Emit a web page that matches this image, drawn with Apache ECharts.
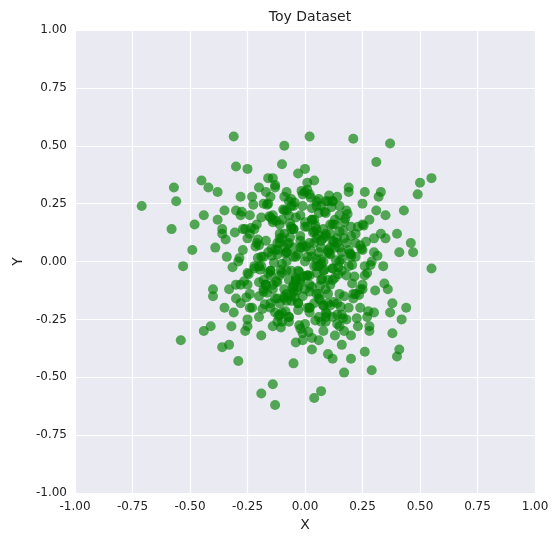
<!DOCTYPE html><html><head><meta charset="utf-8">
<script src="https://cdn.jsdelivr.net/npm/echarts@6/dist/echarts.min.js"></script>
<style>html,body{margin:0;padding:0;background:#fff}#c{width:560px;height:545px}</style></head><body><div id="c"></div>
<script>
const outerX=[-0.71,-0.57,-0.56,-0.58,-0.53,-0.54,-0.49,-0.48,-0.45,-0.44,-0.42,-0.31,-0.09,0.02,0.21,0.37,0.31,0.55,0.50,0.49,0.55,0.47,0.46,0.40,0.38,0.29,0.17,0.07,0.04,-0.13,-0.14,-0.19,-0.29,-0.36,-0.44,0.41,0.43,-0.30,-0.38,0.44,0.42,-0.40,0.12,-0.05,0.26,-0.25,0.33,-0.33];
const outerY=[0.24,0.32,0.26,0.14,-0.02,-0.34,0.05,0.16,0.35,0.20,0.32,0.54,0.50,0.54,0.53,0.51,0.43,0.36,0.34,0.29,-0.03,0.04,0.08,-0.41,-0.31,-0.47,-0.48,-0.56,-0.59,-0.62,-0.53,-0.57,-0.43,-0.37,-0.30,-0.38,0.22,0.41,0.30,-0.20,-0.25,-0.15,-0.42,-0.44,-0.39,0.40,0.30,-0.36];
const coreX=[0.00,0.05,-0.05,0.10,-0.10,0.15,-0.15,0.20,-0.20,0.25,-0.25,0.30,-0.30,0.02,-0.02,0.08,-0.08,0.12,-0.12,0.18,-0.18,0.22,-0.22,0.28,-0.28,0.33,-0.33,0.04,-0.04,0.06,-0.06,0.14,-0.14,0.16,-0.16,0.24,-0.24,0.26,-0.26,0.35,-0.35,0.01,-0.01,0.09,-0.09,0.11,-0.11,0.19,-0.19,0.21,-0.21,0.29,-0.29,0.03,-0.03,0.07,-0.07,0.13,-0.13,0.17,-0.17,0.23,-0.23,0.27,-0.27,0.31,-0.31,0.36,-0.36,0.00,0.05,-0.05,0.10,-0.10,0.15,-0.15,0.20,-0.20,0.25,-0.25,0.30,-0.30,0.02,-0.02,0.08,-0.08,0.12,-0.12,0.18,-0.18,0.22,-0.22,0.28,-0.28,0.04,-0.04,0.06,-0.06,0.14,-0.14,0.16,-0.16,0.24,-0.24,0.01,-0.01,0.09,-0.09,0.11,-0.11,0.19,-0.19,0.03,-0.03,0.07,-0.07,0.13,-0.13,0.17,-0.17,0.00,0.05,-0.05,0.10,-0.10,0.15,-0.15,0.20,-0.20,0.25,-0.25,0.02,-0.02,0.08,-0.08,0.12,-0.12,0.04,-0.04,0.06,-0.06,0.14,-0.14,0.01,-0.01,0.09,-0.09,0.03,-0.03,0.07,-0.07,0.32,-0.32,0.34,-0.34,0.38,-0.38,0.40,-0.40,0.37,-0.39,0.41,-0.41,0.00,0.10,-0.10,0.20,-0.20,0.05,-0.05,0.15,-0.15,0.30,-0.30,0.25,-0.25,0.35,-0.35,0.02,-0.08,0.12,-0.18,0.22,-0.28,0.06,-0.14,0.16,-0.24,0.26,-0.36,0.09,-0.11,0.19,-0.21];
const coreY=[0.00,0.10,-0.10,0.05,-0.05,0.20,-0.20,0.15,-0.15,0.25,-0.25,0.10,-0.10,-0.20,0.20,-0.30,0.30,-0.08,0.08,-0.25,0.25,0.02,-0.02,0.18,-0.18,0.12,-0.12,0.35,-0.35,-0.14,0.14,0.28,-0.28,-0.04,0.04,-0.12,0.12,0.30,-0.30,0.20,-0.20,0.15,-0.15,-0.22,0.22,0.06,-0.06,0.32,-0.32,-0.16,0.16,0.00,0.00,-0.38,0.38,0.24,-0.24,-0.32,0.32,0.10,-0.10,-0.28,0.28,-0.05,0.05,0.22,-0.22,-0.12,0.12,-0.12,-0.02,0.02,-0.18,0.18,0.06,-0.06,-0.32,0.32,-0.10,0.10,-0.22,0.22,0.08,-0.08,0.14,-0.14,0.26,-0.26,0.08,-0.08,-0.14,0.14,-0.28,0.28,-0.02,0.02,0.04,-0.04,-0.18,0.18,-0.36,0.36,-0.20,0.20,-0.06,0.06,0.12,-0.12,-0.10,0.10,-0.02,0.02,0.18,-0.18,-0.26,0.26,0.16,-0.16,-0.30,0.30,0.30,-0.14,0.14,0.26,-0.26,-0.28,0.28,0.02,-0.02,0.05,-0.05,-0.06,0.06,-0.04,0.04,0.16,-0.16,0.08,-0.08,-0.24,0.24,0.10,-0.10,0.34,-0.34,-0.12,0.12,0.18,-0.18,-0.08,0.08,0.28,-0.28,-0.02,0.02,-0.18,0.18,0.12,-0.12,-0.22,0.06,0.04,-0.28,0.40,-0.40,0.42,-0.42,-0.24,0.24,0.14,-0.14,-0.04,0.04,-0.16,0.16,-0.10,0.10,0.22,-0.22,0.00,-0.24,-0.12,0.08,0.20,-0.34,0.36,0.04,-0.20,-0.06,0.14,0.26,-0.18,0.30];
const denseX=[0.03,-0.03,0.07,-0.07,0.11,-0.11,0.02,-0.02,0.06,-0.06,0.13,-0.13,0.09,-0.09,0.01,-0.01,0.05,-0.05,0.16,-0.16,0.04,-0.04,0.08,-0.08,0.12,-0.12,0.00,0.10,-0.10,0.14,-0.14,0.18,-0.18,0.03,-0.03,0.07,-0.07,0.11,-0.11,0.15,-0.15,0.02,-0.02,0.06,-0.06,0.20,-0.20,0.09,-0.09,0.01,-0.01,0.05,-0.05,0.13,-0.13,0.17,-0.17,0.04,-0.04,0.08,-0.08,0.22,-0.22,0.12,-0.12,0.00,0.10,-0.10,0.19,-0.19,0.03,-0.03,0.07,-0.07,0.24,-0.24,0.15,-0.15,0.06,-0.06,0.11,-0.11,0.21,-0.21,0.02,-0.02,0.09,-0.09,0.14,-0.14,0.05,-0.05,0.17,-0.17,0.26,-0.26,0.08,-0.08,0.01,-0.01,0.12,-0.12,0.23,-0.23,0.04,-0.04,0.16,-0.16,0.07,-0.07,0.10,-0.10,0.00,0.18,-0.18,0.27,-0.27,0.13,-0.13,0.03,-0.03,0.06,-0.06,0.20,-0.20,0.09,-0.09,0.15,-0.15,0.02,-0.02,0.11,-0.11,0.25,-0.25,0.05,-0.05,0.14,-0.14,0.08,-0.08,0.19,-0.19,0.01,-0.01,0.28,-0.28,0.12,-0.12];
const denseY=[0.02,-0.04,0.06,-0.08,0.03,0.12,-0.13,0.09,-0.02,0.15,-0.07,0.05,0.11,-0.16,-0.06,0.07,0.14,-0.11,0.01,-0.05,-0.18,0.19,0.00,0.04,-0.03,-0.09,0.17,-0.14,0.10,0.08,-0.12,-0.06,0.02,0.23,-0.21,-0.01,0.20,-0.19,0.16,0.13,-0.04,-0.10,0.11,0.21,-0.17,0.03,-0.09,-0.24,0.06,-0.20,0.24,0.01,-0.13,0.18,-0.22,-0.15,0.09,0.13,-0.07,-0.19,0.22,0.12,-0.03,0.26,0.05,-0.27,-0.08,-0.01,-0.20,0.19,-0.11,0.03,0.09,-0.24,0.07,-0.14,0.24,-0.18,-0.16,0.27,0.16,-0.23,-0.14,0.08,0.29,-0.29,0.21,-0.15,-0.27,0.20,-0.05,0.06,0.17,-0.10,-0.02,0.14,0.10,-0.17,0.31,-0.31,-0.03,0.03,0.15,-0.20,0.18,-0.08,-0.23,0.25,0.01,-0.26,0.04,-0.22,0.15,0.22,-0.13,-0.24,0.14,0.06,0.33,-0.33,-0.11,0.27,-0.15,0.11,0.07,-0.26,0.28,0.00,0.19,-0.20,-0.09,0.12,0.08,-0.12,-0.28,0.26,0.24,-0.23,0.17,-0.19,-0.04,0.05,-0.02,0.02,0.29,-0.30,-0.10,0.09];
const fillX=[0.045,-0.045,0.085,-0.085,0.125,-0.125,0.165,-0.165,0.205,-0.205,0.245,-0.245,0.285,-0.285,0.025,-0.025,0.065,-0.065,0.105,-0.105,0.145,-0.145,0.185,-0.185,0.225,-0.225,0.265,-0.265,0.305,-0.305,0.015,-0.015,0.055,-0.055,0.095,-0.095,0.135,-0.135,0.175,-0.175,0.215,-0.215,0.255,-0.255,0.035,-0.035,0.075,-0.075,0.115,-0.115,0.155,-0.155,0.195,-0.195,0.235,-0.235,0.005,-0.005,0.275,-0.275,0.315,-0.315,0.345,-0.345,0.045,-0.045,0.085,-0.085,0.125,-0.125,0.165,-0.165,0.205,-0.205,0.025,-0.025,0.065,-0.065,0.105,-0.105,0.145,-0.145];
const fillY=[-0.255,0.255,0.215,-0.215,-0.175,0.175,0.135,-0.135,-0.095,0.095,0.055,-0.055,-0.015,0.015,0.045,-0.045,-0.165,0.165,0.285,-0.285,-0.025,0.025,0.205,-0.205,-0.245,0.245,0.085,-0.085,-0.125,0.125,-0.305,0.305,0.115,-0.115,-0.225,0.225,0.005,-0.005,0.185,-0.185,-0.065,0.065,0.155,-0.155,0.125,-0.125,-0.075,0.075,0.235,-0.235,-0.195,0.195,0.035,-0.035,-0.145,0.145,0.065,-0.065,-0.215,0.215,0.025,-0.025,-0.095,0.095,0.155,-0.155,-0.035,0.035,0.085,-0.085,-0.245,0.245,-0.015,0.015,0.275,-0.275,-0.105,0.105,0.035,-0.035,-0.055,0.055,0.195,-0.195];
const pts=[];
outerX.forEach((x,i)=>pts.push([x,outerY[i]]));
coreX.forEach((x,i)=>pts.push([x,coreY[i]]));
denseX.forEach((x,i)=>pts.push([x,denseY[i]]));
fillX.forEach((x,i)=>pts.push([x,fillY[i]]));
const chart=echarts.init(document.getElementById('c'));
const ax={min:-1,max:1,interval:0.25,axisLine:{show:false},axisTick:{show:false},
 axisLabel:{color:'#222',fontSize:12,fontFamily:'DejaVu Sans',formatter:v=>v.toFixed(2)},
 splitLine:{lineStyle:{color:'#fff',width:1.2}},nameLocation:'middle',
 nameTextStyle:{color:'#222',fontSize:14,fontFamily:'DejaVu Sans'}};
chart.setOption({
 title:{text:'Toy Dataset',left:305,top:5,textAlign:'center',textStyle:{color:'#222',fontSize:14,fontWeight:'normal',fontFamily:'DejaVu Sans'}},
 grid:{left:75,right:25,top:30,bottom:52,backgroundColor:'#eaeaf2',show:true,borderWidth:0},
 xAxis:Object.assign({},ax,{name:'X',nameGap:22}),
 yAxis:Object.assign({},ax,{name:'Y',nameGap:50}),
 series:[{type:'scatter',data:pts,symbolSize:10,itemStyle:{color:'#008000',opacity:0.65}}]
});
</script></body></html>
